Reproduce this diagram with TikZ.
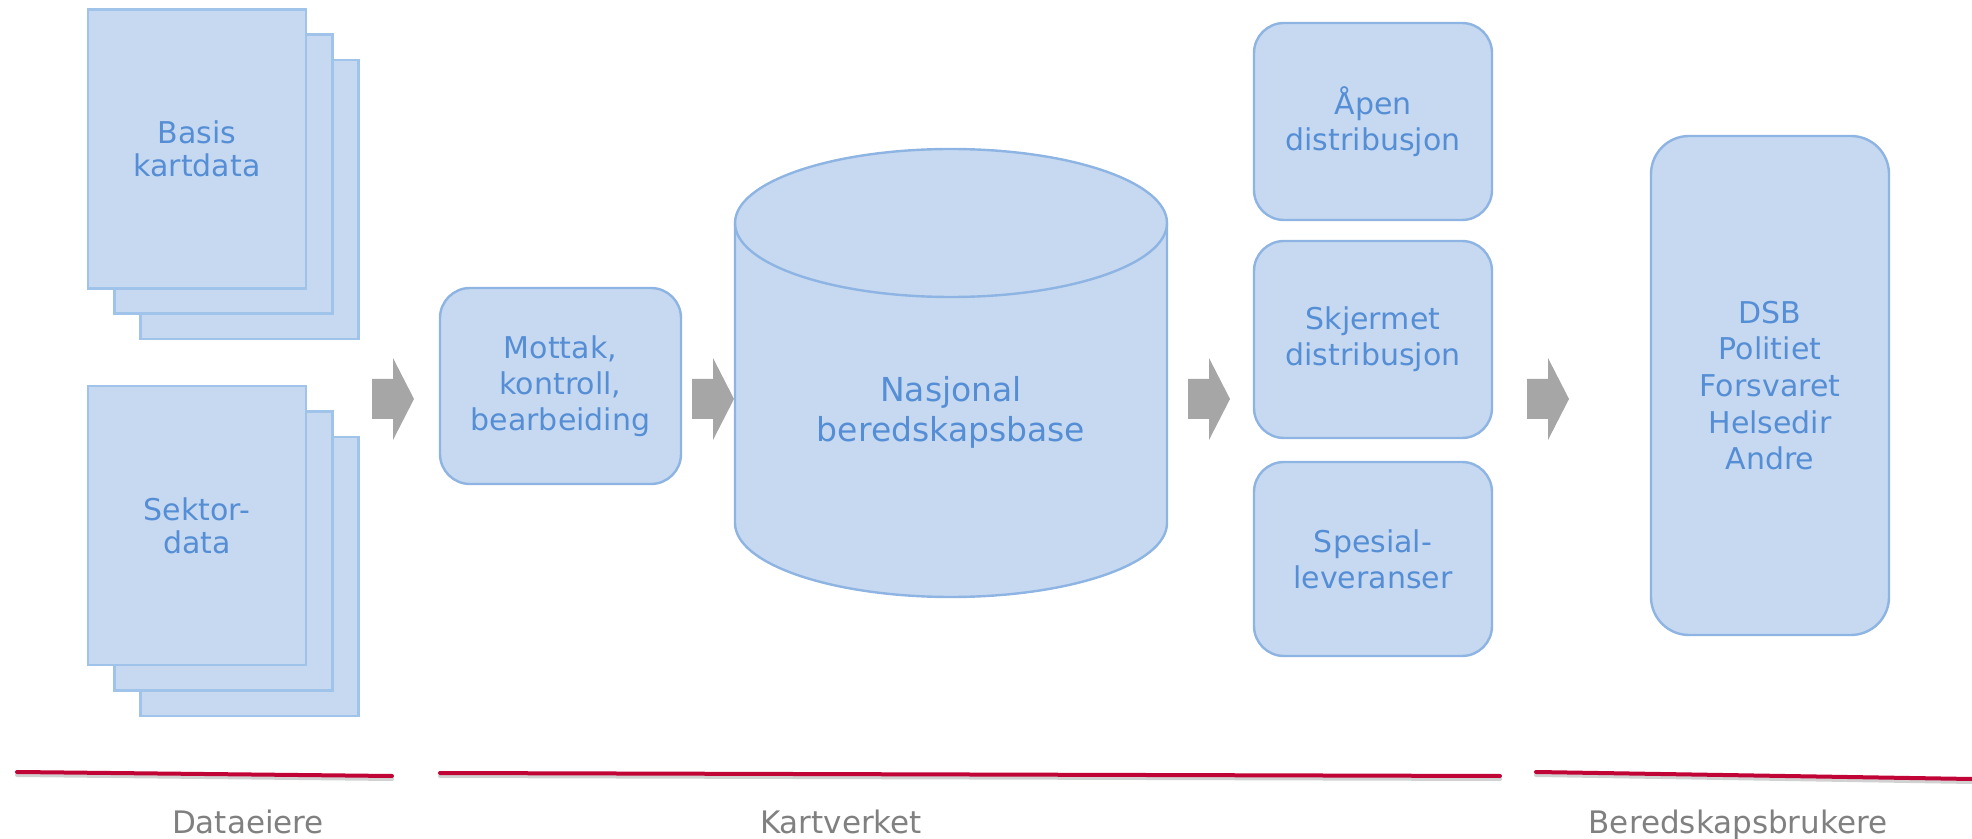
\documentclass[tikz,border=0pt]{standalone}
\usepackage{fontspec}
\setmainfont{DejaVu Sans}
\definecolor{boxfill}{RGB}{198,217,241}
\definecolor{boxline}{RGB}{141,180,226}
\definecolor{sheetline}{RGB}{160,195,234}
\definecolor{boxtext}{RGB}{85,142,213}
\definecolor{arrowgray}{RGB}{166,166,166}
\definecolor{labelgray}{RGB}{128,128,128}
\definecolor{redline}{RGB}{192,4,54}
\tikzset{
  sheet/.style={draw=sheetline, fill=boxfill, line width=1.2pt, minimum width=109pt, minimum height=139.5pt, inner sep=0pt,
    text=boxtext, align=center, font=\fontsize{15}{16.5}\selectfont},
  rbox/.style={draw=boxline, fill=boxfill, line width=1.2pt, rounded corners=15pt, inner sep=0pt,
    text=boxtext, align=center, font=\fontsize{15}{18}\selectfont},
  dbtext/.style={text=boxtext, align=center, font=\fontsize{16.5}{20}\selectfont},
  grouplabel/.style={text=labelgray, anchor=base, font=\fontsize{15.5}{18}\selectfont},
  rule/.style={draw=redline, line width=2pt, line cap=round},
  ruleshadow/.style={draw=black!18, line width=2pt, line cap=round},
  dbshape/.style={draw=boxline, fill=boxfill, line width=1.2pt},
}
\newcommand{\blockarrow}[2]{%
  \fill[arrowgray] (#1,-379) -- (#1+21,-379) -- (#1+21,-358) -- (#1+42,-399)
    -- (#1+21,-440) -- (#1+21,-419) -- (#1,-419) -- cycle;
  \coordinate (#2) at (#1+21,-399);}
\begin{document}
\begin{tikzpicture}[x=0.5pt,y=0.5pt]
\useasboundingbox (0,0) rectangle (1972,-839);

% Basis kartdata stack
\node[sheet] (basis3) at (249.5,-199.5) {};
\node[sheet] (basis2) at (223.5,-174) {};
\node[sheet] (basis1) at (197,-149) {Basis\\kartdata};

% Sektordata stack
\node[sheet] (sektor3) at (249.5,-576.5) {};
\node[sheet] (sektor2) at (223.5,-551) {};
\node[sheet] (sektor1) at (197,-525.5) {Sektor-\\data};

% Mottak
\node[rbox, minimum width=120.5pt, minimum height=98pt] (mottak) at (560.5,-386)
  {Mottak,\\kontroll,\\bearbeiding};

% Database cylinder
\path[dbshape] (735,-223) -- (735,-523) arc (180:360:216 and 74) -- (1167,-223)
  arc (0:180:216 and 74) -- cycle;
\draw[draw=boxline, line width=1.2pt] (735,-223) arc (180:360:216 and 74);
\node[dbtext] (base) at (951,-412) {Nasjonal\\beredskapsbase};

% Distribution boxes
\node[rbox, minimum width=119pt, minimum height=98.5pt] (apen) at (1373,-121.5)
  {Åpen\\distribusjon};
\node[rbox, minimum width=119pt, minimum height=98.5pt] (skjermet) at (1373,-339.5)
  {Skjermet\\distribusjon};
\node[rbox, minimum width=119pt, minimum height=97pt] (spesial) at (1373,-559)
  {Spesial-\\leveranser};

% Users
\node[rbox, rounded corners=19pt, minimum width=119pt, minimum height=249.5pt,
  font=\fontsize{15}{18.3}\selectfont] (brukere) at (1770,-385.5)
  {DSB\\Politiet\\Forsvaret\\Helsedir\\Andre};

% Block arrows
\blockarrow{372}{arr1}
\blockarrow{692}{arr2}
\blockarrow{1188}{arr3}
\blockarrow{1527}{arr4}

% Red rules with faint shadows
\coordinate (r1a) at (17,-772);  \coordinate (r1b) at (392,-776);
\coordinate (r2a) at (440,-773); \coordinate (r2b) at (1500,-776);
\coordinate (r3a) at (1536,-772);\coordinate (r3b) at (1972,-779);
\draw[ruleshadow] ([yshift=-1.5pt]r1a) -- ([yshift=-1.5pt]r1b);
\draw[ruleshadow] ([yshift=-1.5pt]r2a) -- ([yshift=-1.5pt]r2b);
\draw[ruleshadow] ([yshift=-1.5pt]r3a) -- ([yshift=-1.5pt]r3b);
\draw[rule] (r1a) -- (r1b);
\draw[rule] (r2a) -- (r2b);
\draw[rule] (r3a) -- (r3b);

% Group labels
\node[grouplabel] (lab1) at (248,-833) {Dataeiere};
\node[grouplabel] (lab2) at (841,-833) {Kartverket};
\node[grouplabel] (lab3) at (1738,-833) {Beredskapsbrukere};
\end{tikzpicture}
\end{document}
